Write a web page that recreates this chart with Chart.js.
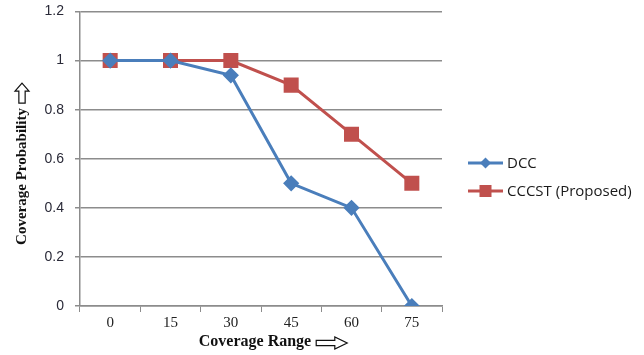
<!DOCTYPE html>
<html>
<head>
<meta charset="utf-8">
<script src="https://cdn.jsdelivr.net/npm/chart.js@4.4.1/dist/chart.umd.min.js"></script>
<style>
  html, body { margin: 0; padding: 0; background: #fff; }
  #wrap { width: 644px; height: 355px; position: relative; }
</style>
</head>
<body>
<div id="wrap"><canvas id="c" width="644" height="355"></canvas></div>
<script>
// Coverage range categories and coverage probability per scheme
const ranges = ['0', '15', '30', '45', '60', '75'];
const dccValues = [1, 1, 0.94, 0.5, 0.4, 0];
const cccstValues = [1, 1, 1, 0.9, 0.7, 0.5];
const seriesNames = ['DCC', 'CCCST (Proposed)'];
const xTitle = 'Coverage Range';
const yTitle = 'Coverage Probability';

const blue = '#4a7ebb';
const red = '#c0504d';
const gridGray = '#8c8c8c';
const titleFont = '"Liberation Serif", "DejaVu Serif", serif';

// Hollow block arrow pointing right, drawn around (x, y) with given length
function hollowArrow(ctx, x, y, len, h) {
  const shaft = h * 0.45, head = len * 0.4;
  ctx.beginPath();
  ctx.moveTo(x, y - shaft / 2);
  ctx.lineTo(x + len - head, y - shaft / 2);
  ctx.lineTo(x + len - head, y - h / 2);
  ctx.lineTo(x + len, y);
  ctx.lineTo(x + len - head, y + h / 2);
  ctx.lineTo(x + len - head, y + shaft / 2);
  ctx.lineTo(x, y + shaft / 2);
  ctx.closePath();
  ctx.fillStyle = '#fff';
  ctx.fill();
  ctx.strokeStyle = '#111';
  ctx.lineWidth = 1.2;
  ctx.stroke();
}

// Axis titles, each followed by a hollow arrow showing the direction of increase
const axisTitles = {
  id: 'axisTitles',
  afterDraw(chart) {
    const ctx = chart.ctx;
    const area = chart.chartArea;
    ctx.save();
    ctx.fillStyle = '#111';
    ctx.textBaseline = 'middle';

    // x title
    ctx.font = 'bold 16px ' + titleFont;
    const xw = ctx.measureText(xTitle).width;
    const arrowLen = 31, gap = 5;
    const xTotal = xw + gap + arrowLen;
    const xc = (area.left + area.right) / 2 + 12;
    const xs = xc - xTotal / 2;
    const yBase = 342;
    ctx.textAlign = 'left';
    ctx.fillText(xTitle, xs, yBase);
    hollowArrow(ctx, xs + xw + gap, yBase + 1, arrowLen, 12);

    // y title, rotated
    ctx.save();
    ctx.translate(22, 0);
    ctx.rotate(-Math.PI / 2);
    ctx.font = 'bold 15px ' + titleFont;
    ctx.fillStyle = '#111';
    const yw = ctx.measureText(yTitle).width;
    const yLen = 20;
    const yTotal = yw + gap + yLen;
    const yc = 164;
    const ys = -(yc + yTotal / 2);
    ctx.textAlign = 'left';
    ctx.fillText(yTitle, ys, 0);
    hollowArrow(ctx, ys + yw + gap, 0, yLen, 14);
    ctx.restore();

    ctx.restore();
  }
};

// Legend drawn to the right of the plot: line with a marker in the middle
const sideLegend = {
  id: 'sideLegend',
  afterDraw(chart) {
    const ctx = chart.ctx;
    const x0 = 468, x1 = 503;
    const rows = [163, 191];
    chart.data.datasets.forEach((ds, i) => {
      const y = rows[i];
      ctx.save();
      ctx.strokeStyle = ds.borderColor;
      ctx.lineWidth = 3;
      ctx.beginPath();
      ctx.moveTo(x0, y);
      ctx.lineTo(x1, y);
      ctx.stroke();
      ctx.fillStyle = ds.backgroundColor;
      const cx = (x0 + x1) / 2;
      if (ds.pointStyle === 'rect') {
        ctx.fillRect(cx - 6, y - 6, 12, 12);
      } else {
        ctx.beginPath();
        ctx.moveTo(cx, y - 5.5);
        ctx.lineTo(cx + 5.5, y);
        ctx.lineTo(cx, y + 5.5);
        ctx.lineTo(cx - 5.5, y);
        ctx.closePath();
        ctx.fill();
      }
      ctx.fillStyle = '#1a1a1a';
      ctx.font = '15px "Open Sans", "Liberation Sans", sans-serif';
      ctx.textBaseline = 'middle';
      ctx.fillText(ds.label, x1 + 4, y + 1);
      ctx.restore();
    });
  }
};

new Chart(document.getElementById('c'), {
  type: 'line',
  data: {
    labels: ranges,
    datasets: [
      {
        label: seriesNames[0],
        data: dccValues,
        borderColor: blue,
        backgroundColor: blue,
        borderWidth: 3,
        pointStyle: 'rectRot',
        pointRadius: 6,
        pointHoverRadius: 6,
        tension: 0
      },
      {
        label: seriesNames[1],
        data: cccstValues,
        borderColor: red,
        backgroundColor: red,
        borderWidth: 3,
        pointStyle: 'rect',
        pointRadius: 8.5,
        pointHoverRadius: 8.5,
        tension: 0
      }
    ]
  },
  options: {
    responsive: false,
    animation: false,
    layout: { padding: { top: 11, right: 202, bottom: 0, left: 0 } },
    plugins: {
      legend: { display: false },
      tooltip: { enabled: false }
    },
    scales: {
      x: {
        offset: true,
        grid: {
          offset: true,
          drawOnChartArea: false,
          color: gridGray,
          tickLength: 6
        },
        border: { color: gridGray, width: 1.5 },
        ticks: {
          color: '#222',
          padding: 2,
          font: { family: '"Liberation Serif", serif', size: 15 }
        },
        afterFit(scale) { scale.height = 49; }
      },
      y: {
        min: 0,
        max: 1.2,
        ticks: {
          stepSize: 0.2,
          color: '#2a2a38',
          padding: 11,
          font: { family: '"Liberation Sans", "Open Sans", sans-serif', size: 14 },
          callback: v => String(Math.round(v * 10) / 10)
        },
        grid: {
          color: gridGray,
          lineWidth: 1.5,
          tickLength: 5
        },
        border: { color: gridGray, width: 1.5 },
        afterFit(scale) {
          scale.width = 80;
          scale.paddingTop = 0;
          scale.paddingBottom = 0;
        }
      }
    }
  },
  plugins: [axisTitles, sideLegend]
});
</script>
</body>
</html>
